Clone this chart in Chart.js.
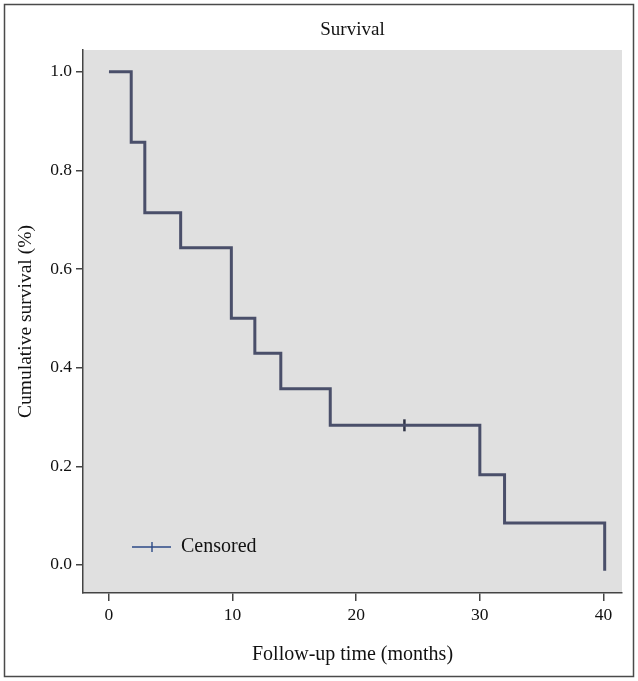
<!DOCTYPE html>
<html>
<head>
<meta charset="utf-8">
<script src="https://cdn.jsdelivr.net/npm/chart.js@4.4.0/dist/chart.umd.min.js"></script>
<style>
  html, body { margin: 0; padding: 0; background: #ffffff; }
  #wrap { width: 638px; height: 681px; position: relative; }
</style>
</head>
<body>
<div id="wrap"><canvas id="c" width="638" height="681"></canvas></div>
<script>
// ---- data ----
const chartTitle = "Survival";
const xAxisTitle = "Follow-up time (months)";
const yAxisTitle = "Cumulative survival (%)";
const legendLabel = "Censored";
// Kaplan-Meier step points: time (months) and survival after the step
const stepTimes    = [0,   1.8,   2.9,   5.8,   9.9,  11.8,  13.9,  17.9,  30.0,  32.0,  40.1];
const stepSurvival = [1.0, 0.857, 0.714, 0.643, 0.50, 0.429, 0.357, 0.283, 0.183, 0.085, -0.012];
// censored observations
const censorTimes    = [23.9];
const censorSurvival = [0.283];
// axis ticks
const xTicks = [0, 10, 20, 30, 40];
const yTicks = [0.0, 0.2, 0.4, 0.6, 0.8, 1.0];

const serif = "'Liberation Serif', 'DejaVu Serif', serif";
const lineColor = "#4a4f6a";

const stepData = stepTimes.map((t, i) => ({ x: t, y: stepSurvival[i] }));
const censorData = censorTimes.map((t, i) => ({ x: t, y: censorSurvival[i] }));

const decorPlugin = {
  id: 'decor',
  beforeDraw(chart) {
    const { ctx, chartArea: a } = chart;
    ctx.save();
    ctx.fillStyle = '#ffffff';
    ctx.fillRect(0, 0, chart.width, chart.height);
    ctx.fillStyle = '#e0e0e0';
    ctx.fillRect(a.left, a.top, a.right - a.left, a.bottom - a.top);
    ctx.restore();
  },
  afterDraw(chart) {
    const { ctx, chartArea: a } = chart;
    ctx.save();
    // outer frame
    ctx.strokeStyle = '#4a4a4a';
    ctx.lineWidth = 1.5;
    ctx.strokeRect(4.5, 4.5, 629, 672);
    // title centred over plot area
    ctx.fillStyle = '#111111';
    ctx.font = "19px " + serif;
    ctx.textAlign = 'center';
    ctx.textBaseline = 'middle';
    ctx.fillText(chartTitle, (a.left + a.right) / 2, 30);
    // legend inside plot area
    const ly = a.bottom - 46;
    const lx = a.left + 49;
    ctx.strokeStyle = '#2d4a86';
    ctx.lineWidth = 1.4;
    ctx.beginPath();
    ctx.moveTo(lx, ly); ctx.lineTo(lx + 39, ly);
    ctx.moveTo(lx + 20, ly - 5); ctx.lineTo(lx + 20, ly + 5);
    ctx.stroke();
    ctx.fillStyle = '#111111';
    ctx.font = "20px " + serif;
    ctx.textAlign = 'left';
    ctx.fillText(legendLabel, lx + 49, ly);
    ctx.restore();
  }
};

new Chart(document.getElementById('c'), {
  type: 'line',
  data: {
    datasets: [
      {
        label: 'Survival',
        data: stepData,
        stepped: 'before',
        borderColor: lineColor,
        borderWidth: 3,
        pointRadius: 0,
        fill: false,
        borderCapStyle: 'butt',
        borderJoinStyle: 'miter'
      },
      {
        label: legendLabel,
        data: censorData,
        showLine: false,
        pointStyle: 'line',
        rotation: 90,
        pointRadius: 6,
        pointBorderWidth: 2.5,
        pointBorderColor: '#2e3245',
        borderColor: '#2e3245'
      }
    ]
  },
  options: {
    responsive: false,
    animation: false,
    layout: { padding: { top: 50, right: 16, left: 0, bottom: 0 } },
    plugins: {
      legend: { display: false },
      tooltip: { enabled: false }
    },
    scales: {
      x: {
        type: 'linear',
        min: -2.1,
        max: 41.5,
        afterBuildTicks(scale) { scale.ticks = xTicks.map(v => ({ value: v })); },
        afterFit(scale) { scale.height = 88; },
        grid: { drawOnChartArea: false, drawTicks: true, tickLength: 8, color: '#444444', lineWidth: 1.5 },
        border: { display: true, color: '#444444', width: 1.5 },
        ticks: { color: '#111111', font: { family: serif, size: 17.5 }, padding: 4, maxRotation: 0 },
        title: { display: true, text: xAxisTitle, color: '#111111', font: { family: serif, size: 20 }, padding: { top: 4, bottom: 14 } }
      },
      y: {
        type: 'linear',
        min: -0.057,
        max: 1.044,
        afterBuildTicks(scale) { scale.ticks = yTicks.map(v => ({ value: v })); },
        afterFit(scale) { scale.width = 83; },
        grid: { drawOnChartArea: false, drawTicks: true, tickLength: 7, color: '#444444', lineWidth: 1.5 },
        border: { display: true, color: '#444444', width: 1.5 },
        ticks: { color: '#111111', font: { family: serif, size: 17.5 }, padding: 4, callback: v => v.toFixed(1) },
        title: { display: true, text: yAxisTitle, color: '#111111', font: { family: serif, size: 19.5 }, padding: { top: 14, bottom: 0 } }
      }
    }
  },
  plugins: [decorPlugin]
});
</script>
</body>
</html>
